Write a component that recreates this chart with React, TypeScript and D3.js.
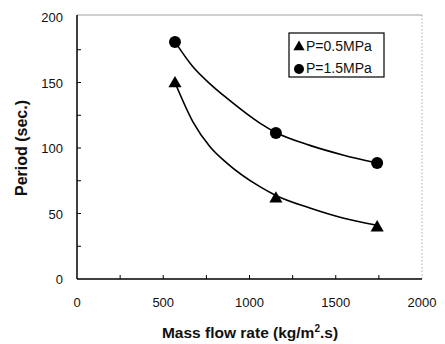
import React from "react";
import * as d3 from "d3";

const flowRates = [568, 1153, 1740];
const periodLow = [150, 62, 40];
const periodHigh = [181, 111.5, 88.5];
// fitted trend curves
const fitX = [568, 672, 771, 869, 1060, 1150, 1350, 1541, 1740];
const fitLow = [150, 120, 101, 88.5, 70.5, 64, 54.2, 46.6, 41];
const fitHigh = [181, 162, 149, 138, 119, 112, 102, 94.7, 88.5];
const xTicks = [0, 500, 1000, 1500, 2000];
const yTicks = [0, 50, 100, 150, 200];
const legendLabels = ["P=0.5MPa", "P=1.5MPa"];

export default function App() {
  const W = 445, H = 344;
  const left = 77, right = 422, top = 17, bottom = 279;
  const x = d3.scaleLinear().domain([0, 2000]).range([left, right]);
  const y = d3.scaleLinear().domain([0, 200]).range([bottom, top]);
  const mk = (vals: number[]) =>
    d3.line<number>().x((_, i) => x(fitX[i])).y(d => y(d)).curve(d3.curveMonotoneX)(vals) || "";
  const tri = d3.symbol().type(d3.symbolTriangle).size(75)() || "";
  const font = "Arial, 'Liberation Sans', sans-serif";
  const minorX = d3.range(250, 2000, 250);
  const minorY = d3.range(25, 200, 25);
  return (
    <svg width={W} height={H} style={{ position: "absolute", left: 0, top: 0, background: "#fff" }}>
      <rect x={0} y={0} width={W} height={H} fill="#fff" />
      <line x1={left} y1={top - 2} x2={right} y2={top - 2} stroke="#888" strokeWidth={0.8} />
      <line x1={right} y1={top - 2} x2={right} y2={bottom} stroke="#999" strokeWidth={0.8} strokeDasharray="1.5,2" />
      <line x1={left} y1={top - 2} x2={left} y2={bottom} stroke="#000" strokeWidth={1.5} />
      <line x1={left} y1={bottom} x2={right} y2={bottom} stroke="#000" strokeWidth={1.5} />
      {minorX.map(v => (
        <line key={"xt" + v} x1={x(v)} x2={x(v)} y1={bottom} y2={bottom - 4} stroke="#000" strokeWidth={1} />
      ))}
      {minorY.map(v => (
        <line key={"yt" + v} x1={left} x2={left + 4} y1={y(v)} y2={y(v)} stroke="#000" strokeWidth={1} />
      ))}
      {xTicks.map(v => (
        <text key={"xl" + v} x={x(v)} y={307} textAnchor="middle" fontFamily={font} fontSize={13} fill="#111">{v}</text>
      ))}
      {yTicks.map(v => (
        <text key={"yl" + v} x={63} y={y(v) + 5} textAnchor="end" fontFamily={font} fontSize={13} fill="#111">{v}</text>
      ))}
      <text x={250} y={338} textAnchor="middle" fontFamily={font} fontSize={15.5} fontWeight="bold" fill="#111">
        Mass flow rate (kg/m<tspan dy={-6} fontSize={10}>2</tspan><tspan dy={6}>.s)</tspan>
      </text>
      <text transform={`translate(27,148) rotate(-90)`} textAnchor="middle" fontFamily={font} fontSize={16} fontWeight="bold" fill="#111">
        Period (sec.)
      </text>
      <path d={mk(fitHigh)} fill="none" stroke="#000" strokeWidth={1.6} />
      <path d={mk(fitLow)} fill="none" stroke="#000" strokeWidth={1.6} />
      {flowRates.map((f, i) => (
        <circle key={"c" + i} cx={x(f)} cy={y(periodHigh[i])} r={6} fill="#000" />
      ))}
      {flowRates.map((f, i) => (
        <path key={"t" + i} d={tri} transform={`translate(${x(f)},${y(periodLow[i]) + 1})`} fill="#000" />
      ))}
      <rect x={289} y={33} width={95} height={44} fill="#fff" stroke="#000" strokeWidth={1.2} />
      <path d={d3.symbol().type(d3.symbolTriangle).size(55)() || ""} transform="translate(299,47)" fill="#000" />
      <circle cx={299} cy={69} r={5} fill="#000" />
      <text x={306} y={51} fontFamily={font} fontSize={14} fill="#111">{legendLabels[0]}</text>
      <text x={306} y={73} fontFamily={font} fontSize={14} fill="#111">{legendLabels[1]}</text>
    </svg>
  );
}
